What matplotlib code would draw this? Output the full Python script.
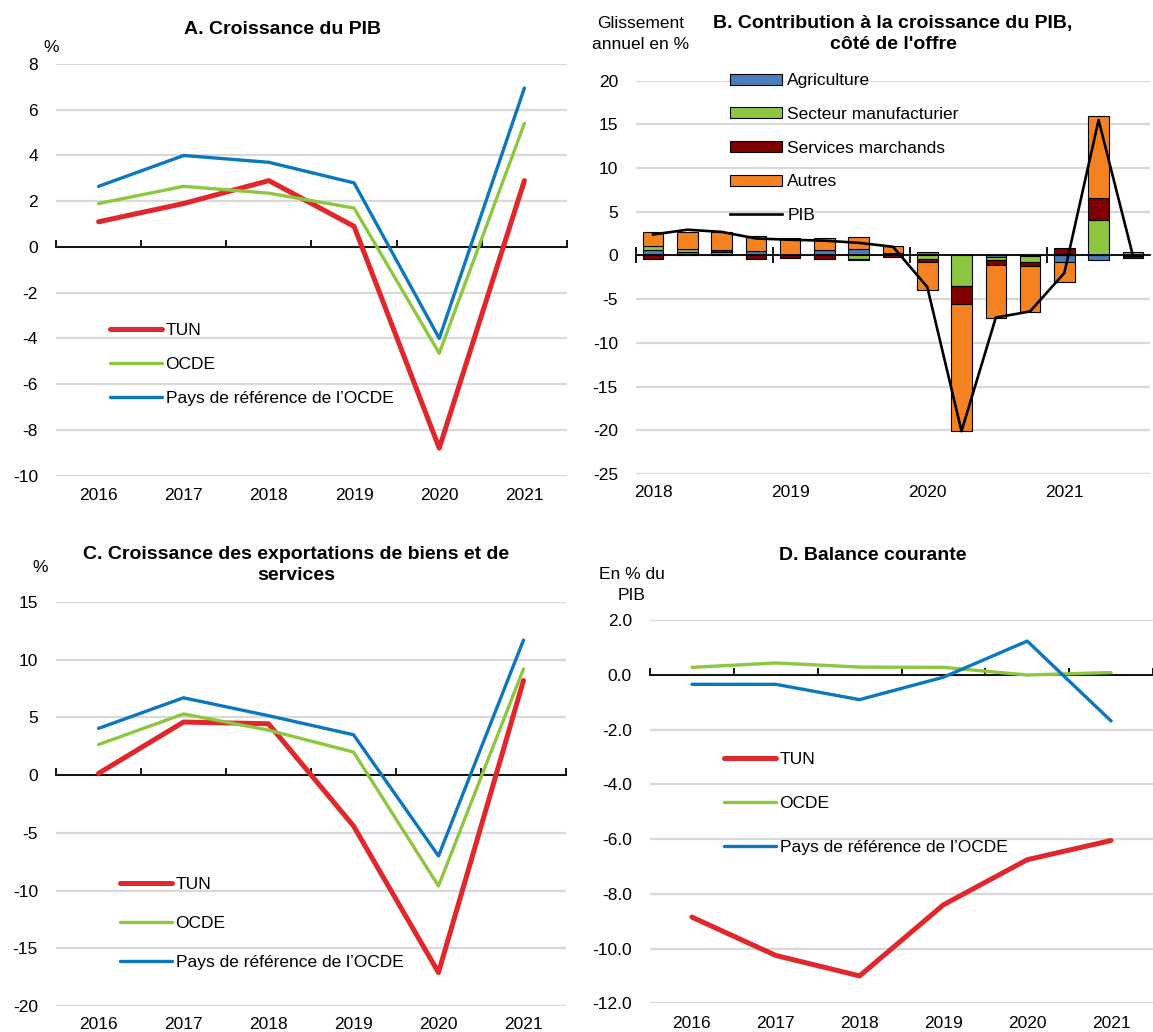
import numpy as np
import matplotlib
matplotlib.use("Agg")
import matplotlib.pyplot as plt
from matplotlib.ticker import FormatStrFormatter

plt.rcParams.update({
    "font.family": ["Liberation Sans", "DejaVu Sans"],
    "font.size": 12.5,
    "axes.unicode_minus": False,
})
FS_PX = 12.5 * 100 / 72  # font size in pixels

# ---------------------------------------------------------------- data ----
YEARS = ["2016", "2017", "2018", "2019", "2020", "2021"]
SERIES_NAMES = ["TUN", "OCDE", "Pays de référence de l\u2019OCDE"]

# A. Croissance du PIB (%)
GDP_TUN = [1.1, 1.9, 2.9, 0.9, -8.8, 2.9]
GDP_OECD = [1.9, 2.65, 2.35, 1.7, -4.65, 5.4]
GDP_REF = [2.65, 4.0, 3.7, 2.8, -4.0, 6.95]

# C. Croissance des exportations (%)
EXP_TUN = [0.15, 4.6, 4.45, -4.4, -17.1, 8.2]
EXP_OECD = [2.65, 5.3, 3.9, 2.0, -9.6, 9.2]
EXP_REF = [4.05, 6.7, 5.15, 3.5, -7.0, 11.7]

# D. Balance courante (% du PIB)
CA_TUN = [-8.85, -10.25, -11.0, -8.4, -6.75, -6.05]
CA_OECD = [0.28, 0.44, 0.29, 0.28, 0.0, 0.09]
CA_REF = [-0.34, -0.34, -0.9, -0.08, 1.24, -1.68]

# B. Contribution à la croissance du PIB, côté de l'offre (quarterly, 2018T1-2021T3)
QUARTERS = ["2018T1", "2018T2", "2018T3", "2018T4",
            "2019T1", "2019T2", "2019T3", "2019T4",
            "2020T1", "2020T2", "2020T3", "2020T4",
            "2021T1", "2021T2", "2021T3"]
AGRI = [0.6, 0.4, 0.2, 0.5, 0.0, 0.6, 0.75, 0.3, 0.35, 0.0, -0.15, -0.1, -0.7, -0.5, -0.05]
MANUF = [0.45, 0.3, 0.2, 0.0, 0.1, 0.0, -0.35, 0.0, -0.4, -3.5, -0.4, -0.7, 0.0, 4.1, 0.0]
SERVICES = [-0.35, 0.0, 0.25, -0.35, -0.3, -0.4, -0.2, -0.15, -0.4, -2.1, -0.55, -0.4, 0.9, 2.5, -0.2]
AUTRES = [1.65, 2.0, 2.05, 1.7, 1.9, 1.4, 1.35, 0.8, -3.1, -14.5, -6.1, -5.3, -2.35, 9.4, 0.35]
PIB = [2.4, 2.95, 2.7, 1.95, 1.8, 1.7, 1.45, 1.0, -3.6, -20.1, -7.1, -6.4, -2.0, 15.5, 0.0]
B_COMPONENTS = ["Agriculture", "Secteur manufacturier", "Services marchands", "Autres"]

# --------------------------------------------------------------- style ----
RED, GREEN, BLUE = "#E1262C", "#8DC63F", "#0B78BE"
LINE_STYLE = [(RED, 3.6), (GREEN, 2.4), (BLUE, 2.4)]
BAR_COLOURS = ["#4A7EBB", "#8DC63F", "#800000", "#F58220"]
GRID = "#D9D9D9"

W, H = 1153, 1032
fig = plt.figure(figsize=(W / 100, H / 100), dpi=100)


def px_axes(l, t, r, b):
    return fig.add_axes([l / W, 1 - b / H, (r - l) / W, (b - t) / H])


def fig_text(x, y, s, **kw):
    fig.text(x / W, 1 - y / H, s, ha="center", va="center", **kw)


def place_legend(ax, handles, labels, x, y_first, row_gap, **kw):
    # legend rows come out ~2 px tighter and ~3 px higher than asked
    ax.legend(handles, labels, loc="upper left",
              bbox_to_anchor=(x / W, 1 - (y_first + 3 - FS_PX / 2) / H),
              bbox_transform=fig.transFigure, frameon=False, borderpad=0,
              borderaxespad=0, handlelength=3.0,
              labelspacing=(row_gap + 2 - FS_PX) / FS_PX, **kw)


def base_style(ax, ylim, yticks, xpad):
    ax.set_ylim(*ylim)
    ax.set_yticks(yticks)
    ax.yaxis.grid(True, color=GRID, linewidth=1.6)
    ax.set_axisbelow(True)
    for side in ("left", "right", "bottom"):
        ax.spines[side].set_visible(False)
    ax.spines["top"].set_position(("data", 0))
    ax.spines["top"].set_color("black")
    ax.spines["top"].set_linewidth(1.3)
    ax.tick_params(axis="y", length=0, pad=13)
    ax.tick_params(axis="x", which="major", length=0, pad=xpad)


def line_panel(ax, series, ylim, yticks, xpad, legend_xy, row_gap):
    x = np.arange(len(YEARS))
    for vals, name, (colour, lw) in zip(series, SERIES_NAMES, LINE_STYLE):
        ax.plot(x, vals, color=colour, linewidth=lw, label=name,
                solid_capstyle="round", solid_joinstyle="round", zorder=3)
    ax.set_xlim(-0.5, len(YEARS) - 0.5)
    base_style(ax, ylim, yticks, xpad)
    ax.set_xticks(x)
    ax.set_xticklabels(YEARS)
    ax.set_xticks(np.arange(len(YEARS) + 1) - 0.5, minor=True)
    ax.tick_params(axis="x", which="minor", bottom=False, top=True,
                   direction="out", length=5, width=1.3)
    h, l = ax.get_legend_handles_labels()
    place_legend(ax, h, l, legend_xy[0], legend_xy[1], row_gap,
                 handletextpad=0.2)


# --------------------------------------------------------- A ----
axA = px_axes(56, 64, 567, 475.6)
line_panel(axA, [GDP_TUN, GDP_OECD, GDP_REF], (-10, 8), np.arange(-10, 9, 2),
           9, (110, 329), 34)
fig_text(283, 30, "A. Croissance du PIB", fontweight="bold", fontsize=14)
fig_text(51, 47, "%")

# --------------------------------------------------------- C ----
axC = px_axes(56, 602, 566, 1006)
line_panel(axC, [EXP_TUN, EXP_OECD, EXP_REF], (-20, 15), np.arange(-20, 16, 5),
           8, (120, 883), 39)
fig_text(296, 565, "C. Croissance des exportations de biens et de\nservices",
         fontweight="bold", fontsize=14, linespacing=1.38)
fig_text(40, 567, "%")

# --------------------------------------------------------- D ----
axD = px_axes(650, 620.3, 1153, 1003.3)
line_panel(axD, [CA_TUN, CA_OECD, CA_REF], (-12, 2), np.arange(-12, 3, 2),
           9, (724, 758), 44)
axD.yaxis.set_major_formatter(FormatStrFormatter("%.1f"))
fig_text(873, 556, "D. Balance courante", fontweight="bold", fontsize=14)
fig_text(632, 585, "En % du\nPIB", linespacing=1.45)

# --------------------------------------------------------- B ----
axB = px_axes(636, 80.7, 1150, 474)
xq = np.arange(len(QUARTERS))
pos_base = np.zeros(len(QUARTERS))
neg_base = np.zeros(len(QUARTERS))
bar_handles = []
for vals, name, colour in zip([AGRI, MANUF, SERVICES, AUTRES], B_COMPONENTS, BAR_COLOURS):
    v = np.array(vals)
    bottom = np.where(v >= 0, pos_base, neg_base)
    bars = axB.bar(xq, v, bottom=bottom, width=0.6, color=colour, edgecolor="black",
                   linewidth=0.8, zorder=2)
    bar_handles.append(bars)
    pos_base += np.where(v > 0, v, 0)
    neg_base += np.where(v < 0, v, 0)
pib_line, = axB.plot(xq, PIB, color="black", linewidth=1.9, zorder=4,
                     solid_joinstyle="round")
axB.set_xlim(-0.5, len(QUARTERS) - 0.5)
base_style(axB, (-25, 20), np.arange(-25, 21, 5), 8)
year_pos = xq[::4]
axB.set_xticks(year_pos)
axB.set_xticklabels([QUARTERS[i][:4] for i in year_pos])
axB.set_xticks(year_pos - 0.5, minor=True)
axB.tick_params(axis="x", which="minor", bottom=False, top=True,
                direction="inout", length=11, width=1.3)
place_legend(axB, bar_handles + [pib_line], B_COMPONENTS + ["PIB"], 730, 79, 34,
             handleheight=0.6, handletextpad=0.3)
fig_text(893, 34, "B. Contribution à la croissance du PIB,\ncôté de l'offre",
         fontweight="bold", fontsize=14, linespacing=1.36)
fig_text(641, 34, "Glissement\nannuel en %", linespacing=1.45)

fig.savefig("out.png", dpi=100)
